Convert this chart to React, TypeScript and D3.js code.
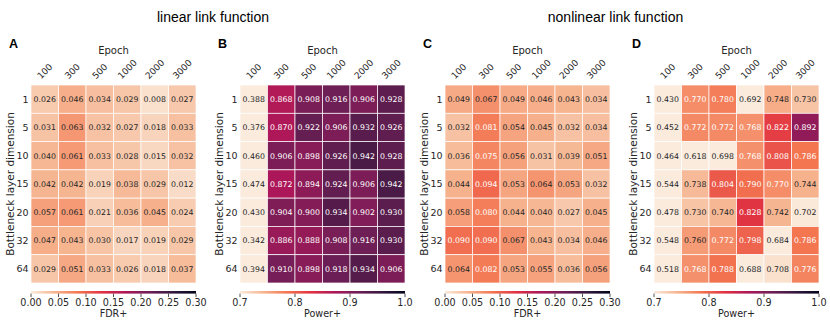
import React from "react";
import * as d3 from "d3";

const epochs = ["100", "300", "500", "1000", "2000", "3000"];
const dims = ["1", "5", "10", "15", "20", "32", "64"];

const fdrLinear = [
  [0.026, 0.046, 0.034, 0.029, 0.008, 0.027],
  [0.031, 0.063, 0.032, 0.027, 0.018, 0.033],
  [0.04, 0.061, 0.033, 0.028, 0.015, 0.032],
  [0.042, 0.042, 0.019, 0.038, 0.029, 0.012],
  [0.057, 0.061, 0.021, 0.036, 0.045, 0.024],
  [0.047, 0.043, 0.03, 0.017, 0.019, 0.029],
  [0.029, 0.051, 0.033, 0.026, 0.018, 0.037],
];
const powerLinear = [
  [0.388, 0.868, 0.908, 0.916, 0.906, 0.928],
  [0.376, 0.87, 0.922, 0.906, 0.932, 0.926],
  [0.46, 0.906, 0.898, 0.926, 0.942, 0.928],
  [0.474, 0.872, 0.894, 0.924, 0.906, 0.942],
  [0.43, 0.904, 0.9, 0.934, 0.902, 0.93],
  [0.342, 0.886, 0.888, 0.908, 0.916, 0.93],
  [0.394, 0.91, 0.898, 0.918, 0.934, 0.906],
];
const fdrNonlinear = [
  [0.049, 0.067, 0.049, 0.046, 0.043, 0.034],
  [0.032, 0.081, 0.054, 0.045, 0.032, 0.034],
  [0.036, 0.075, 0.056, 0.031, 0.039, 0.051],
  [0.044, 0.094, 0.053, 0.064, 0.053, 0.032],
  [0.058, 0.08, 0.044, 0.04, 0.027, 0.045],
  [0.09, 0.09, 0.067, 0.043, 0.034, 0.046],
  [0.064, 0.082, 0.053, 0.055, 0.036, 0.056],
];
const powerNonlinear = [
  [0.43, 0.77, 0.78, 0.692, 0.748, 0.73],
  [0.452, 0.772, 0.772, 0.768, 0.822, 0.892],
  [0.464, 0.618, 0.698, 0.768, 0.808, 0.786],
  [0.544, 0.738, 0.804, 0.79, 0.77, 0.744],
  [0.478, 0.73, 0.74, 0.828, 0.742, 0.702],
  [0.548, 0.76, 0.772, 0.798, 0.684, 0.786],
  [0.518, 0.768, 0.788, 0.688, 0.708, 0.776],
];

const fdrTicks = [0, 0.05, 0.1, 0.15, 0.2, 0.25, 0.3];
const powerTicks = [0.7, 0.8, 0.9, 1.0];

const rocketStops = ["#03051a", "#35193e", "#701f57", "#ad1759", "#e13342", "#f37651", "#f6b48f", "#faebdd"];
const rocket = d3
  .scaleLinear<string>()
  .domain(rocketStops.map((_, i) => i / (rocketStops.length - 1)))
  .range(rocketStops)
  .interpolate(d3.interpolateRgb)
  .clamp(true);
const rocketR = (t: number) => rocket(1 - Math.max(0, Math.min(1, t)));
// luminance of rocket_r decreases monotonically; text turns white past this point
const WHITE_TEXT_T = 0.225;

const FONT = "DejaVu Sans, sans-serif";
const Y0 = 85;
const H = 198;
const W = 165;
const CB_Y = 291;
const CB_H = 2.6;

type PanelProps = {
  id: string;
  letter: string;
  x0: number;
  data: number[][];
  vmin: number;
  vmax: number;
  ticks: number[];
  tickFmt: (v: number) => string;
  cbLabel: string;
};

function Panel({ id, letter, x0, data, vmin, vmax, ticks, tickFmt, cbLabel }: PanelProps) {
  const x = d3.scaleBand().domain(epochs).range([x0, x0 + W]);
  const y = d3.scaleBand().domain(dims).range([Y0, Y0 + H]);
  const norm = d3.scaleLinear().domain([vmin, vmax]).range([0, 1]);
  const cbx = d3.scaleLinear().domain([vmin, vmax]).range([x0, x0 + W]);
  const fmt = d3.format(".3f");
  const tickFs = 9;
  const stops = d3.range(0, 1.0001, 0.02);
  return (
    <g>
      <text x={x0 - 22} y={47.5} fontFamily="Liberation Sans, Arial, sans-serif" fontWeight="bold" fontSize={12.5} fill="#000">
        {letter}
      </text>
      <text x={x0 + W / 2} y={54} textAnchor="middle" fontFamily={FONT} fontSize={10} fill="#262626">
        Epoch
      </text>
      {epochs.map((e) => {
        const w = e.length * 0.636 * tickFs;
        const span = (w + 0.73 * tickFs) * 0.7071;
        const cx = (x(e) as number) + x.bandwidth() / 2;
        const cy = 79.5 - span / 2;
        return (
          <text
            key={e}
            transform={`translate(${cx},${cy}) rotate(-45)`}
            textAnchor="middle"
            dy="0.36em"
            fontFamily={FONT}
            fontSize={tickFs}
            fill="#262626"
          >
            {e}
          </text>
        );
      })}
      <text
        transform={`translate(${x0 - 21},${Y0 + H / 2}) rotate(-90)`}
        textAnchor="middle"
        dy="0.36em"
        fontFamily={FONT}
        fontSize={10.5}
        fill="#262626"
      >
        Bottleneck layer dimension
      </text>
      {dims.map((d) => (
        <text
          key={d}
          x={x0 - 2.5}
          y={(y(d) as number) + y.bandwidth() / 2}
          dy="0.36em"
          textAnchor="end"
          fontFamily={FONT}
          fontSize={9.5}
          fill="#262626"
        >
          {d}
        </text>
      ))}
      {data.map((row, i) =>
        row.map((v, j) => {
          const t = norm(v);
          const c = rocketR(t);
          const tc = t > WHITE_TEXT_T ? "#ffffff" : "#262626";
          const cx = x(epochs[j]) as number;
          const cy = y(dims[i]) as number;
          return (
            <g key={`${i}-${j}`}>
              <rect x={cx} y={cy} width={x.bandwidth()} height={y.bandwidth()} fill={c} stroke="#ffffff" strokeWidth={0.7} />
              <text
                x={cx + x.bandwidth() / 2}
                y={cy + y.bandwidth() / 2}
                dy="0.36em"
                textAnchor="middle"
                fontFamily={FONT}
                fontSize={7.8}
                fill={tc}
              >
                {fmt(v)}
              </text>
            </g>
          );
        })
      )}
      <defs>
        <linearGradient id={`grad-${id}`} x1="0" x2="1" y1="0" y2="0">
          {stops.map((s) => (
            <stop key={s} offset={s} stopColor={rocketR(s)} />
          ))}
        </linearGradient>
      </defs>
      <rect x={x0} y={CB_Y} width={W} height={CB_H} fill={`url(#grad-${id})`} />
      {ticks.map((t) => (
        <g key={t}>
          <line x1={cbx(t)} x2={cbx(t)} y1={CB_Y + CB_H} y2={CB_Y + CB_H + 3.5} stroke="#262626" strokeWidth={0.8} />
          <text x={cbx(t)} y={306} textAnchor="middle" fontFamily={FONT} fontSize={9.6} fill="#262626">
            {tickFmt(t)}
          </text>
        </g>
      ))}
      <text x={x0 + W / 2} y={316.5} textAnchor="middle" fontFamily={FONT} fontSize={9.6} fill="#262626">
        {cbLabel}
      </text>
    </g>
  );
}

export default function App() {
  const f2 = d3.format(".2f");
  const f1 = d3.format(".1f");
  return (
    <svg width={830} height={325} style={{ position: "absolute", left: 0, top: 0, background: "#fff" }}>
      <rect x={0} y={0} width={830} height={325} fill="#fff" />
      <text x={213} y={22} textAnchor="middle" fontFamily="Liberation Sans, Arial, sans-serif" fontSize={14} fill="#000">
        linear link function
      </text>
      <text x={615.5} y={22} textAnchor="middle" fontFamily="Liberation Sans, Arial, sans-serif" fontSize={14} fill="#000">
        nonlinear link function
      </text>
      <Panel id="a" letter="A" x0={31} data={fdrLinear} vmin={0} vmax={0.3} ticks={fdrTicks} tickFmt={f2} cbLabel="FDR+" />
      <Panel id="b" letter="B" x0={240} data={powerLinear} vmin={0.7} vmax={1.0} ticks={powerTicks} tickFmt={f1} cbLabel="Power+" />
      <Panel id="c" letter="C" x0={445} data={fdrNonlinear} vmin={0} vmax={0.3} ticks={fdrTicks} tickFmt={f2} cbLabel="FDR+" />
      <Panel id="d" letter="D" x0={654} data={powerNonlinear} vmin={0.7} vmax={1.0} ticks={powerTicks} tickFmt={f1} cbLabel="Power+" />
    </svg>
  );
}
